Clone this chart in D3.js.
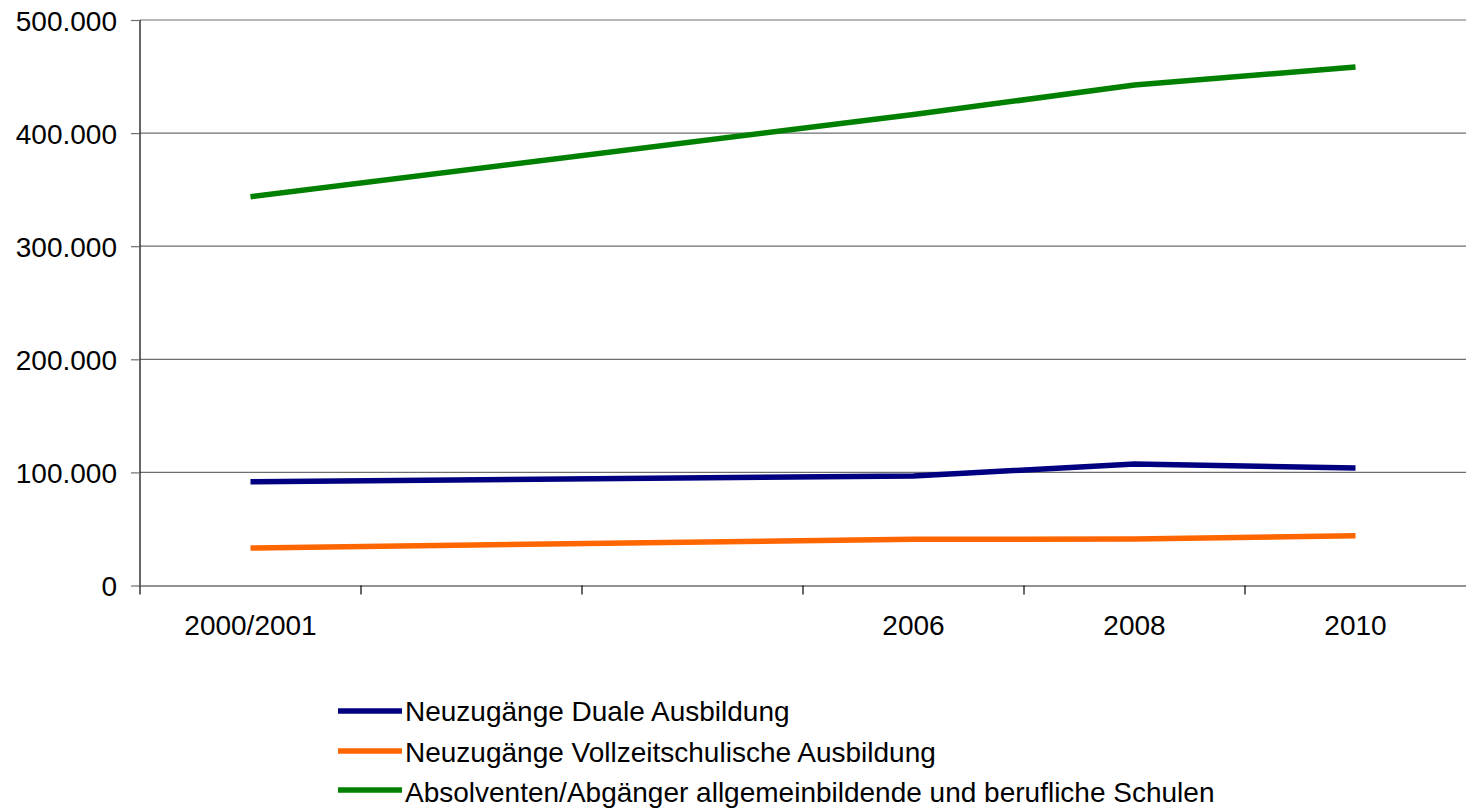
<!DOCTYPE html>
<html><head><meta charset="utf-8">
<script src="https://cdn.jsdelivr.net/npm/d3@7"></script>
<style>body{margin:0;background:#fff}svg{display:block}text{font-family:"Liberation Sans",Arial,sans-serif}</style>
</head><body>
<svg id="c" width="1466" height="809"></svg>
<script>
const categories = ["2000/2001", "", "", "2006", "2008", "2010"];
const seriesNames = ["Neuzugänge Duale Ausbildung", "Neuzugänge Vollzeitschulische Ausbildung", "Absolventen/Abgänger allgemeinbildende und berufliche Schulen"];
const dualValues = [91800, null, null, 96800, 107400, 103900];
const vollzeitValues = [33200, null, null, 40800, 41100, 44000];
const absolventenValues = [343800, null, null, 416400, 442500, 458400];
const yTicks = [0, 100000, 200000, 300000, 400000, 500000];
const colors = ["#000080", "#ff6600", "#008000"];

const series = [dualValues, vollzeitValues, absolventenValues];
const svg = d3.select("#c");
const L = 140, R = 1466, T = 20, B = 585.5;
const FS = 28;
const x = d3.scaleBand().domain(d3.range(categories.length)).range([L, R]);
const y = d3.scaleLinear().domain([0, 500000]).range([B, T]);
const fmt = v => d3.format(",")(v).replace(/,/g, ".");

// gridlines
svg.append("g").selectAll("line").data(yTicks.filter(t => t > 0)).join("line")
  .attr("x1", L).attr("x2", R).attr("y1", d => y(d)).attr("y2", d => y(d))
  .attr("stroke", "#6e6e6e").attr("stroke-width", 1.2);

// y axis
const ya = svg.append("g").attr("transform", `translate(${L},0)`)
  .call(d3.axisLeft(y).tickValues(yTicks).tickSize(9).tickPadding(14).tickFormat(fmt));
ya.select(".domain").attr("stroke", "#000").attr("stroke-width", 1.2).attr("d", `M0,${T}V${B}`);
ya.selectAll(".tick line").attr("stroke", "#6e6e6e").attr("stroke-width", 1.2);
ya.selectAll("text").attr("font-size", FS).attr("fill", "#000").attr("font-family", "Liberation Sans, Arial, sans-serif").attr("dy", "0.36em");

// x axis
const xa = svg.append("g").attr("transform", `translate(0,${B})`)
  .call(d3.axisBottom(x).tickSize(0).tickPadding(30).tickFormat(i => categories[i]));
xa.select(".domain").attr("stroke", "#6e6e6e").attr("stroke-width", 1.5);
xa.selectAll("text").attr("font-size", FS).attr("fill", "#000").attr("font-family", "Liberation Sans, Arial, sans-serif");
const bounds = d3.range(categories.length).map(i => x(i));
svg.append("g").selectAll("line").data(bounds).join("line")
  .attr("x1", d => d).attr("x2", d => d).attr("y1", B).attr("y2", B + 9)
  .attr("stroke", "#000").attr("stroke-width", 1.2);

// lines
const line = d3.line().x(d => x(d.i) + x.bandwidth() / 2).y(d => y(d.v));
series.forEach((vals, k) => {
  const pts = vals.map((v, i) => ({i, v})).filter(d => d.v != null);
  svg.append("path").attr("d", line(pts)).attr("fill", "none")
    .attr("stroke", colors[k]).attr("stroke-width", 5.5);
});

// legend
const lg = svg.append("g");
const lineY = [711, 751, 790];
const textY = [721, 762, 802];
seriesNames.forEach((n, k) => {
  lg.append("line").attr("x1", 338).attr("x2", 402).attr("y1", lineY[k]).attr("y2", lineY[k])
    .attr("stroke", colors[k]).attr("stroke-width", 5.5);
  lg.append("text").attr("x", 405).attr("y", textY[k])
    .attr("font-size", FS).attr("fill", "#000").text(n);
});
</script>
</body></html>
